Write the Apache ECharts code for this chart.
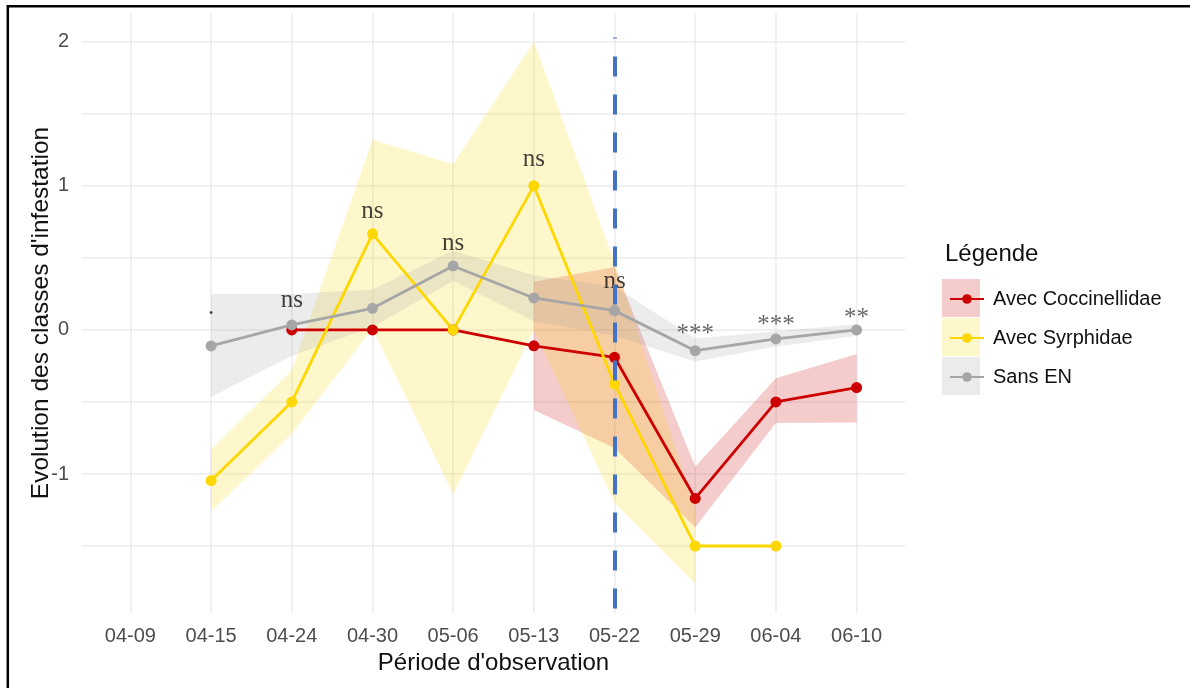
<!DOCTYPE html>
<html><head><meta charset="utf-8">
<script src="https://cdn.jsdelivr.net/npm/echarts@6/dist/echarts.min.js"></script>
<style>html,body{margin:0;padding:0;background:#fff}#c{width:1190px;height:688px}</style>
</head><body><div id="c"></div>
<script>
const dates = ['04-09','04-15','04-24','04-30','05-06','05-13','05-22','05-29','06-04','06-10'];
const coccMean = [null,null,0,0,0,-0.11,-0.19,-1.17,-0.5,-0.4];
const coccLow  = [null,null,null,null,null,-0.555,-0.82,-1.37,-0.646,-0.643];
const coccHigh = [null,null,null,null,null,0.335,0.437,-0.95,-0.336,-0.167];
const syrMean  = [null,-1.046,-0.5,0.667,0,1,-0.375,-1.5,-1.5,null];
const syrLow   = [null,-1.26,-0.72,0.01,-1.14,0,-1.2,-1.76,null,null];
const syrHigh  = [null,-0.83,-0.28,1.32,1.15,2.0,0.47,-1.24,null,null];
const sansMean = [null,-0.111,0.035,0.15,0.444,0.222,0.134,-0.144,-0.0625,0];
const sansLow  = [null,-0.465,-0.18,0.02,0.34,0.06,-0.04,-0.22,-0.115,-0.04];
const sansHigh = [null,0.25,0.25,0.28,0.55,0.38,0.30,-0.06,-0.01,0.04];
const sigLabels = ['','.','ns','ns','ns','ns','ns','***','***','**'];
const sigY = [null,0.157,0.202,0.82,0.60,1.184,0.334,-0.033,0.031,0.083];
const yTickLabels = [-1,0,1,2];
const yGridValues = [-1.5,-1,-0.5,0,0.5,1,1.5,2];
const seriesNames = ['Avec Coccinellidae','Avec Syrphidae','Sans EN'];
const vlineDate = '05-22';
const vlineRange = [2.03,-1.94];

const SANS = 'Liberation Sans, Arial, sans-serif';
const SERIF = 'Liberation Serif, Times New Roman, serif';
const idx = dates.map((d,i)=>i);
const colors = ['#CD0000','#FFD700','#A6A6A6'];
const fills = ['rgba(205,0,0,0.2)','rgba(255,215,0,0.2)','rgba(160,160,160,0.2)'];

function ribbon(name, lo, hi, fill){
  return {
    type:'custom', name:name+' ribbon', silent:true, z:1,
    data: idx.map(i=>[i, lo[i]==null?0:lo[i], hi[i]==null?0:hi[i]]),
    encode:{x:0,y:[1,2]},
    renderItem:function(params, api){
      if(params.dataIndex!==0) return null;
      const children=[]; let run=[];
      const flush=()=>{
        if(run.length>=2){
          const pts = run.map(i=>api.coord([i,hi[i]])).concat(run.slice().reverse().map(i=>api.coord([i,lo[i]])));
          children.push({type:'polygon',shape:{points:pts},style:{fill:fill}});
        }
        run=[];
      };
      for(const i of idx){ if(lo[i]==null||hi[i]==null) flush(); else run.push(i); }
      flush();
      return {type:'group',children:children};
    }
  };
}
function line(name, vals, color){
  return {
    type:'line', name:name, z:3,
    data: idx.map(i=>[i, vals[i]]),
    connectNulls:false, symbol:'circle', symbolSize:11, showSymbol:true,
    lineStyle:{color:color,width:2.8}, itemStyle:{color:color},
    emphasis:{disabled:true}, animation:false
  };
}
const vIdx = dates.indexOf(vlineDate);

const chart = echarts.init(document.getElementById('c'), null, {renderer:'canvas'});
chart.setOption({
  animation:false,
  backgroundColor:'#fff',
  grid:{left:82,right:285,top:13,bottom:75,containLabel:false},
  title:{text:'Légende',left:940,top:237,textStyle:{fontFamily:SANS,fontSize:24,fontWeight:'normal',color:'#111'}},
  legend:{
    data:seriesNames, orient:'vertical', left:944, top:284, itemWidth:34, itemHeight:12, itemGap:19,
    selectedMode:false,
    textStyle:{fontFamily:SANS,fontSize:20,color:'#111',padding:[0,0,0,4]}
  },
  graphic:[
    {type:'rect',shape:{x:942,y:279,width:38,height:38},style:{fill:'#F5CCCC'},z:0},
    {type:'rect',shape:{x:942,y:318,width:38,height:38},style:{fill:'#FFF7CC'},z:0},
    {type:'rect',shape:{x:942,y:357,width:38,height:38},style:{fill:'#EBEBEB'},z:0},
    {type:'rect',shape:{x:7.8,y:6.2,width:1400,height:900},style:{fill:null,stroke:'#000',lineWidth:2.5},z:100}
  ],
  xAxis:{
    type:'value', min:-0.6, max:9.6,
    name:"Période d'observation", nameLocation:'middle', nameGap:38, nameMoveOverlap:false,
    nameTextStyle:{fontFamily:SANS,fontSize:24,color:'#111'},
    axisLine:{show:false}, axisTick:{show:false,customValues:idx},
    axisLabel:{customValues:idx, formatter:v=>dates[Math.round(v)], fontFamily:SANS, fontSize:20, color:'#4D4D4D', margin:13},
    splitLine:{show:true,lineStyle:{color:'#EBEBEB',width:1.5}}
  },
  yAxis:{
    type:'value', min:-1.965, max:2.2,
    name:"Evolution des classes d'infestation", nameLocation:'middle', nameGap:28, nameRotate:90, nameMoveOverlap:false,
    nameTextStyle:{fontFamily:SANS,fontSize:24.5,color:'#111'},
    axisLine:{show:false}, axisTick:{show:false,customValues:yGridValues},
    axisLabel:{customValues:yTickLabels, fontFamily:SANS, fontSize:20, color:'#4D4D4D', margin:13},
    splitLine:{show:true,lineStyle:{color:'#EBEBEB',width:1.5}}
  },
  series:[
    ribbon(seriesNames[0], coccLow, coccHigh, fills[0]),
    ribbon(seriesNames[1], syrLow, syrHigh, fills[1]),
    ribbon(seriesNames[2], sansLow, sansHigh, fills[2]),
    line(seriesNames[0], coccMean, colors[0]),
    line(seriesNames[1], syrMean, colors[1]),
    line(seriesNames[2], sansMean, colors[2]),
    {
      type:'scatter', name:'sig', z:4, symbolSize:1, itemStyle:{color:'rgba(0,0,0,0)'},
      data: idx.filter(i=>sigY[i]!=null).map(i=>({value:[i,sigY[i]], name:sigLabels[i],
        label:{color: sigLabels[i].indexOf('*')>=0 ? '#444' : '#111'}})),
      label:{show:true, position:'inside', formatter:'{b}', fontFamily:SERIF, fontSize:25},
      emphasis:{disabled:true}, silent:true,
      markLine:{
        silent:true, symbol:['none','none'], z:10, animation:false,
        label:{show:false},
        lineStyle:{color:'#4472C4',width:4,type:[20,18],dashOffset:19},
        data:[[{coord:[vIdx,vlineRange[0]]},{coord:[vIdx,vlineRange[1]]}]]
      }
    }
  ]
});
</script></body></html>
